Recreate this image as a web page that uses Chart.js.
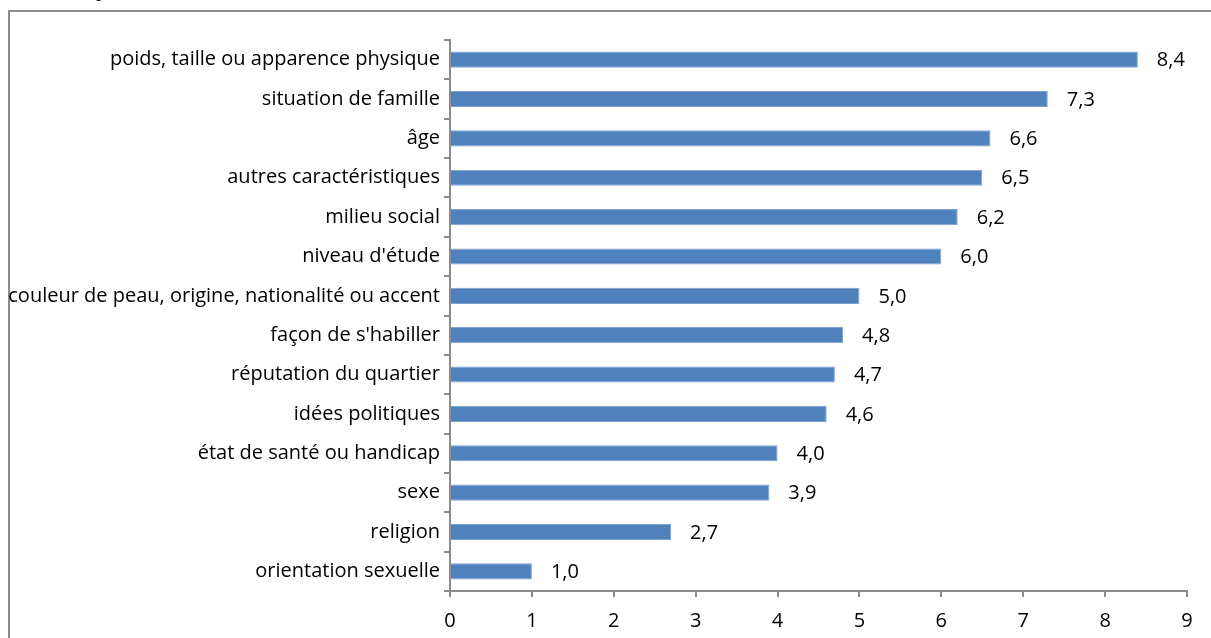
<!DOCTYPE html>
<html>
<head>
<meta charset="utf-8">
<script src="https://cdn.jsdelivr.net/npm/chart.js@4"></script>
<style>
  html, body { margin: 0; padding: 0; background: #fff; overflow: hidden; }
  #wrap { position: relative; width: 1211px; height: 638px; }
  #frame { position: absolute; left: 8px; top: 10px; width: 1220px; height: 640px;
           border: 2px solid #8c8c8c; box-sizing: border-box; }
  #titre { position: absolute; left: 96px; top: -28px; font: bold 22px "Open Sans", sans-serif; color: #000; }
  canvas { position: absolute; left: 0; top: 0; }
</style>
</head>
<body>
<div id="wrap">
  <div id="frame"></div>
  <div id="titre">y</div>
  <canvas id="chart" width="1211" height="638"></canvas>
</div>
<script>
// catégories et valeurs (%)
var categories = [
    'poids, taille ou apparence physique',
    'situation de famille',
    'âge',
    'autres caractéristiques',
    'milieu social',
    "niveau d'étude",
    'couleur de peau, origine, nationalité ou accent',
    "façon de s'habiller",
    'réputation du quartier',
    'idées politiques',
    'état de santé ou handicap',
    'sexe',
    'religion',
    'orientation sexuelle'
];
var valeurs = [8.4, 7.3, 6.6, 6.5, 6.2, 6.0, 5.0, 4.8, 4.7, 4.6, 4.0, 3.9, 2.7, 1.0];
var ticksX = [0, 1, 2, 3, 4, 5, 6, 7, 8, 9];

var police = '"Open Sans", sans-serif';
var taille = 20;

// affiche la valeur à droite de chaque barre
var etiquettes = {
    id: 'etiquettes',
    afterDatasetsDraw: function (chart) {
        var ctx = chart.ctx;
        var meta = chart.getDatasetMeta(0);
        ctx.save();
        ctx.font = taille + 'px ' + police;
        ctx.fillStyle = '#000';
        ctx.textAlign = 'left';
        ctx.textBaseline = 'middle';
        meta.data.forEach(function (bar, i) {
            var txt = valeurs[i].toFixed(1).replace('.', ',');
            ctx.fillText(txt, bar.x + 19, bar.y + 1);
        });
        ctx.restore();
    }
};

var ctx = document.getElementById('chart').getContext('2d');
var chart = new Chart(ctx, {
    type: 'bar',
    data: {
        labels: categories,
        datasets: [{
            data: valeurs,
            backgroundColor: '#4f81bd',
            borderColor: '#7da1cf',
            borderWidth: 1,
            categoryPercentage: 1,
            barPercentage: 0.41
        }]
    },
    options: {
        indexAxis: 'y',
        responsive: false,
        animation: false,
        layout: { padding: { left: 8, right: 24, top: 40, bottom: 0 } },
        plugins: {
            legend: { display: false },
            tooltip: { enabled: false }
        },
        scales: {
            x: {
                min: 0,
                max: 9,
                afterBuildTicks: function (axis) {
                    axis.ticks = ticksX.map(function (v) { return { value: v }; });
                },
                afterFit: function (axis) { axis.height = 47; },
                border: { color: '#8c8c8c', width: 2 },
                grid: { drawOnChartArea: false, color: '#8c8c8c', lineWidth: 2, tickLength: 6 },
                ticks: { color: '#000', font: { family: police, size: taille }, padding: 12 }
            },
            y: {
                afterFit: function (axis) { axis.width = 442; },
                border: { color: '#8c8c8c', width: 2 },
                grid: { drawOnChartArea: false, offset: true, color: '#8c8c8c', lineWidth: 2, tickLength: 6 },
                ticks: { color: '#000', font: { family: police, size: taille }, padding: 4 }
            }
        }
    },
    plugins: [etiquettes]
});
</script>
</body>
</html>
